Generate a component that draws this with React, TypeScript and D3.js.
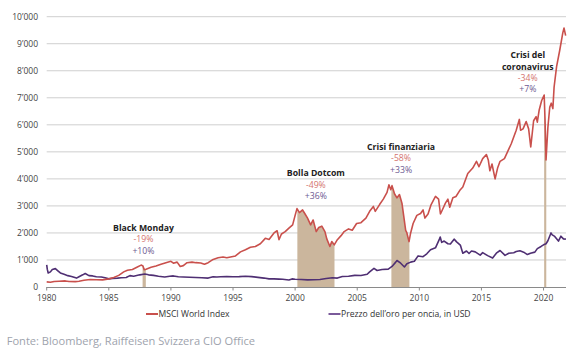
import React from 'react';
import * as d3 from 'd3';

const yTicks = [0, 1000, 2000, 3000, 4000, 5000, 6000, 7000, 8000, 9000, 10000];
const xTicks = [1980, 1985, 1990, 1995, 2000, 2005, 2010, 2015, 2020];

const msciDates = [
  1980.0, 1980.3, 1980.6, 1981.0, 1981.5, 1981.8, 1982.3, 1982.6, 1983.0, 1983.5,
  1984.0, 1984.5, 1985.0, 1985.4, 1985.8, 1986.2, 1986.5, 1986.9, 1987.3, 1987.6,
  1987.75, 1987.85, 1988.0, 1988.4, 1988.8, 1989.2, 1989.6, 1990.0, 1990.2, 1990.5,
  1990.75, 1991.0, 1991.3, 1991.7, 1992.0, 1992.4, 1992.7, 1993.0, 1993.4, 1993.8,
  1994.2, 1994.5, 1994.9, 1995.2, 1995.6, 1996.0, 1996.4, 1996.8, 1997.2, 1997.6,
  1997.9, 1998.3, 1998.55, 1998.7, 1998.9, 1999.2, 1999.5, 1999.8, 2000.0, 2000.15,
  2000.35, 2000.6, 2000.8, 2001.0, 2001.25, 2001.45, 2001.7, 2001.9, 2002.15, 2002.4,
  2002.55, 2002.8, 2002.95, 2003.15, 2003.4, 2003.7, 2003.95, 2004.3, 2004.6, 2004.95,
  2005.3, 2005.7, 2006.0, 2006.3, 2006.45, 2006.8, 2007.1, 2007.4, 2007.55, 2007.7,
  2007.8, 2008.0, 2008.2, 2008.4, 2008.6, 2008.75, 2008.9, 2009.0, 2009.17, 2009.3,
  2009.5, 2009.8, 2010.1, 2010.3, 2010.45, 2010.7, 2010.95, 2011.3, 2011.55, 2011.7,
  2011.85, 2012.1, 2012.3, 2012.45, 2012.7, 2012.95, 2013.3, 2013.5, 2013.9, 2014.3,
  2014.6, 2014.8, 2015.1, 2015.4, 2015.55, 2015.68, 2015.85, 2016.1, 2016.3, 2016.5,
  2016.85, 2017.1, 2017.4, 2017.8, 2018.05, 2018.15, 2018.35, 2018.6, 2018.8, 2018.97,
  2019.2, 2019.4, 2019.5, 2019.65, 2019.85, 2020.05, 2020.12, 2020.2, 2020.35, 2020.5,
  2020.62, 2020.75, 2020.85, 2021.05, 2021.3, 2021.55, 2021.65, 2021.78,
];
const msciValues = [
  190, 175, 205, 215, 225, 205, 200, 215, 250, 280,
  270, 265, 300, 350, 430, 560, 620, 650, 740, 810,
  780, 640, 660, 730, 780, 840, 900, 950, 880, 920,
  760, 790, 900, 920, 900, 890, 840, 900, 1020, 1080,
  1110, 1080, 1120, 1150, 1300, 1380, 1470, 1500, 1600, 1800,
  1760, 2000, 2080, 1750, 1960, 2050, 2180, 2300, 2650, 2900,
  2750, 2850, 2700, 2550, 2300, 2480, 2050, 2200, 2250, 2050,
  1780, 1500, 1680, 1560, 1750, 1900, 2050, 2150, 2100, 2350,
  2380, 2550, 2800, 2980, 2800, 3050, 3250, 3500, 3780, 3600,
  3750, 3450, 3300, 3420, 3100, 2600, 2100, 2000, 1680, 2000,
  2350, 2650, 2720, 2850, 2550, 2700, 3050, 3350, 3250, 2700,
  2850, 3100, 3250, 2950, 3300, 3350, 3600, 3700, 4200, 4400,
  4650, 4450, 4750, 4900, 4700, 4300, 4550, 4000, 4400, 4650,
  4750, 5000, 5300, 5800, 6200, 5800, 5850, 6120, 5850, 5180,
  6150, 6300, 6100, 6550, 6900, 7100, 6200, 4700, 5900, 6650,
  6800, 6600, 7400, 8150, 8750, 9400, 9580, 9300,
];

const goldDates = [
  1980.0, 1980.05, 1980.12, 1980.3, 1980.45, 1980.7, 1980.9, 1981.1, 1981.4, 1981.7,
  1982.0, 1982.4, 1982.6, 1982.9, 1983.1, 1983.4, 1983.7, 1984.0, 1984.4, 1984.7,
  1985.0, 1985.3, 1985.7, 1986.0, 1986.4, 1986.7, 1987.0, 1987.5, 1987.9, 1988.2,
  1988.6, 1989.0, 1989.5, 1989.9, 1990.2, 1990.6, 1991.0, 1991.5, 1992.0, 1992.5,
  1993.0, 1993.4, 1993.7, 1994.0, 1994.5, 1995.0, 1995.5, 1996.0, 1996.5, 1997.0,
  1997.5, 1997.9, 1998.3, 1998.7, 1999.0, 1999.5, 1999.75, 2000.0, 2000.5, 2001.0,
  2001.5, 2002.0, 2002.5, 2003.0, 2003.4, 2003.8, 2004.3, 2004.8, 2005.3, 2005.8,
  2006.0, 2006.35, 2006.6, 2007.0, 2007.5, 2007.8, 2008.1, 2008.2, 2008.5, 2008.8,
  2009.0, 2009.3, 2009.6, 2009.9, 2010.3, 2010.6, 2010.9, 2011.3, 2011.6, 2011.68,
  2011.8, 2012.0, 2012.3, 2012.5, 2012.8, 2013.0, 2013.3, 2013.5, 2013.8, 2014.0,
  2014.2, 2014.5, 2014.9, 2015.1, 2015.5, 2015.9, 2016.2, 2016.5, 2016.9, 2017.2,
  2017.6, 2017.8, 2018.1, 2018.4, 2018.7, 2018.95, 2019.3, 2019.5, 2019.8, 2020.0,
  2020.2, 2020.35, 2020.6, 2020.7, 2020.9, 2021.2, 2021.4, 2021.6, 2021.8,
];
const goldValues = [
  820, 650, 520, 560, 650, 680, 600, 520, 470, 420,
  390, 330, 380, 450, 500, 420, 410, 380, 370, 340,
  300, 320, 330, 345, 350, 420, 400, 450, 480, 450,
  430, 400, 370, 400, 410, 380, 370, 360, 350, 345,
  330, 380, 370, 380, 385, 380, 385, 400, 385, 355,
  330, 300, 300, 290, 285, 260, 300, 285, 280, 265,
  270, 280, 315, 345, 330, 390, 400, 430, 425, 470,
  560, 690, 610, 650, 660, 760, 920, 980, 880, 740,
  860, 920, 950, 1150, 1120, 1230, 1380, 1450, 1750, 1850,
  1650, 1700, 1600, 1590, 1770, 1670, 1550, 1250, 1330, 1240,
  1330, 1300, 1180, 1270, 1160, 1070, 1250, 1350, 1170, 1250,
  1270, 1310, 1340, 1290, 1200, 1250, 1290, 1420, 1500, 1560,
  1600, 1710, 2000, 1930, 1870, 1700, 1880, 1780, 1770,
];

const crisisTitle = [['Black Monday'], ['Bolla Dotcom'], ['Crisi finanziaria'], ['Crisi del', 'coronavirus']];
const crisisStart = [1987.72, 2000.18, 2007.75, 2020.05];
const crisisEnd = [1987.98, 2003.17, 2009.2, 2020.22];
const msciChange = ['-19%', '-49%', '-58%', '-34%'];
const goldChange = ['+10%', '+36%', '+33%', '+7%'];

// layout (label anchors in data coordinates)
const labelAnchor: [number, number][] = [
  [1987.79, 2074],
  [2001.67, 4093],
  [2008.53, 5074],
  [2018.73, 8481],
];

const W = 581;
const H = 360;
const RED = '#c9504c';
const PURPLE = '#4f2f73';
const RED_TXT = '#d4736e';
const PURPLE_TXT = '#6e5a92';
const SHADE = '#cbb69d';
const FONT = "'Open Sans', 'Noto Sans', sans-serif";

export default function App() {
  const x = d3.scaleLinear().domain([1980, 2021.8]).range([46.7, 565.9]);
  const y = d3.scaleLinear().domain([0, 10000]).range([287, 16.7]);

  const msci = msciDates.map((d, i) => [d, msciValues[i]] as [number, number]);
  const gold = goldDates.map((d, i) => [d, goldValues[i]] as [number, number]);

  const line = d3
    .line<[number, number]>()
    .x((d) => x(d[0]))
    .y((d) => y(d[1]));

  const interp = (t: number) => {
    for (let i = 1; i < msci.length; i++) {
      if (msci[i][0] >= t) {
        const [t0, v0] = msci[i - 1];
        const [t1, v1] = msci[i];
        return v0 + ((v1 - v0) * (t - t0)) / (t1 - t0);
      }
    }
    return msci[msci.length - 1][1];
  };

  const area = d3
    .area<[number, number]>()
    .x((d) => x(d[0]))
    .y0(y(0))
    .y1((d) => y(d[1]));

  const shades = crisisStart.map((s, i) => {
    const e = crisisEnd[i];
    const pts: [number, number][] = [[s, interp(s)]];
    msci.forEach((p) => {
      if (p[0] > s && p[0] < e) pts.push(p);
    });
    pts.push([e, interp(e)]);
    return area(pts) as string;
  });

  return (
    <svg width={W} height={H} style={{ position: 'absolute', left: 0, top: 0, background: '#fff' }} fontFamily={FONT}>
      {yTicks.map((t) => (
        <g key={t}>
          {t > 0 && <line x1={46.7} x2={566} y1={y(t)} y2={y(t)} stroke="#cfcfcf" strokeWidth={1} />}
          <text x={38} y={y(t) + 3} fontSize={8.5} textAnchor="end" fill="#444">
            {d3.format(',')(t).replace(/,/g, '\u2019')}
          </text>
        </g>
      ))}

      {shades.map((p, i) => (
        <path key={i} d={p} fill={SHADE} />
      ))}

      <path d={line(gold) as string} fill="none" stroke={PURPLE} strokeWidth={1.6} strokeLinejoin="round" />
      <path d={line(msci) as string} fill="none" stroke={RED} strokeWidth={1.6} strokeLinejoin="round" />

      <line x1={46.2} x2={566} y1={287.5} y2={287.5} stroke="#8a8a8a" strokeWidth={1} />
      {xTicks.map((t) => (
        <g key={t}>
          <line x1={x(t)} x2={x(t)} y1={287.5} y2={290.5} stroke="#8a8a8a" strokeWidth={1} />
          <text x={x(t)} y={300.7} fontSize={8.5} textAnchor="middle" fill="#444">
            {t}
          </text>
        </g>
      ))}

      {labelAnchor.map(([ax, ay], i) => {
        const cx = x(ax);
        const by = y(ay);
        const lines = crisisTitle[i];
        return (
          <g key={i} textAnchor="middle" fontSize={8.7}>
            {lines.map((l, j) => (
              <text key={j} x={cx} y={by + j * 11.8} fontWeight="bold" fill="#222">
                {l}
              </text>
            ))}
            <text x={cx} y={by + lines.length * 11.6 - 0.3} fill={RED_TXT}>
              {msciChange[i]}
            </text>
            <text x={cx} y={by + lines.length * 11.6 + 11.2} fill={PURPLE_TXT}>
              {goldChange[i]}
            </text>
          </g>
        );
      })}

      <line x1={146} x2={158} y1={314} y2={314} stroke={RED} strokeWidth={2} />
      <text x={158.5} y={317} fontSize={8.6} fill="#333">
        MSCI World Index
      </text>
      <line x1={328.5} x2={340.5} y1={314} y2={314} stroke="#7a5a9a" strokeWidth={2} />
      <text x={341} y={317} fontSize={8.6} fill="#333">
        Prezzo dell’oro per oncia, in USD
      </text>

      <text x={6.7} y={345} fontSize={11.1} fill="#9ea3ad">
        Fonte: Bloomberg, Raiffeisen Svizzera CIO Office
      </text>
    </svg>
  );
}
